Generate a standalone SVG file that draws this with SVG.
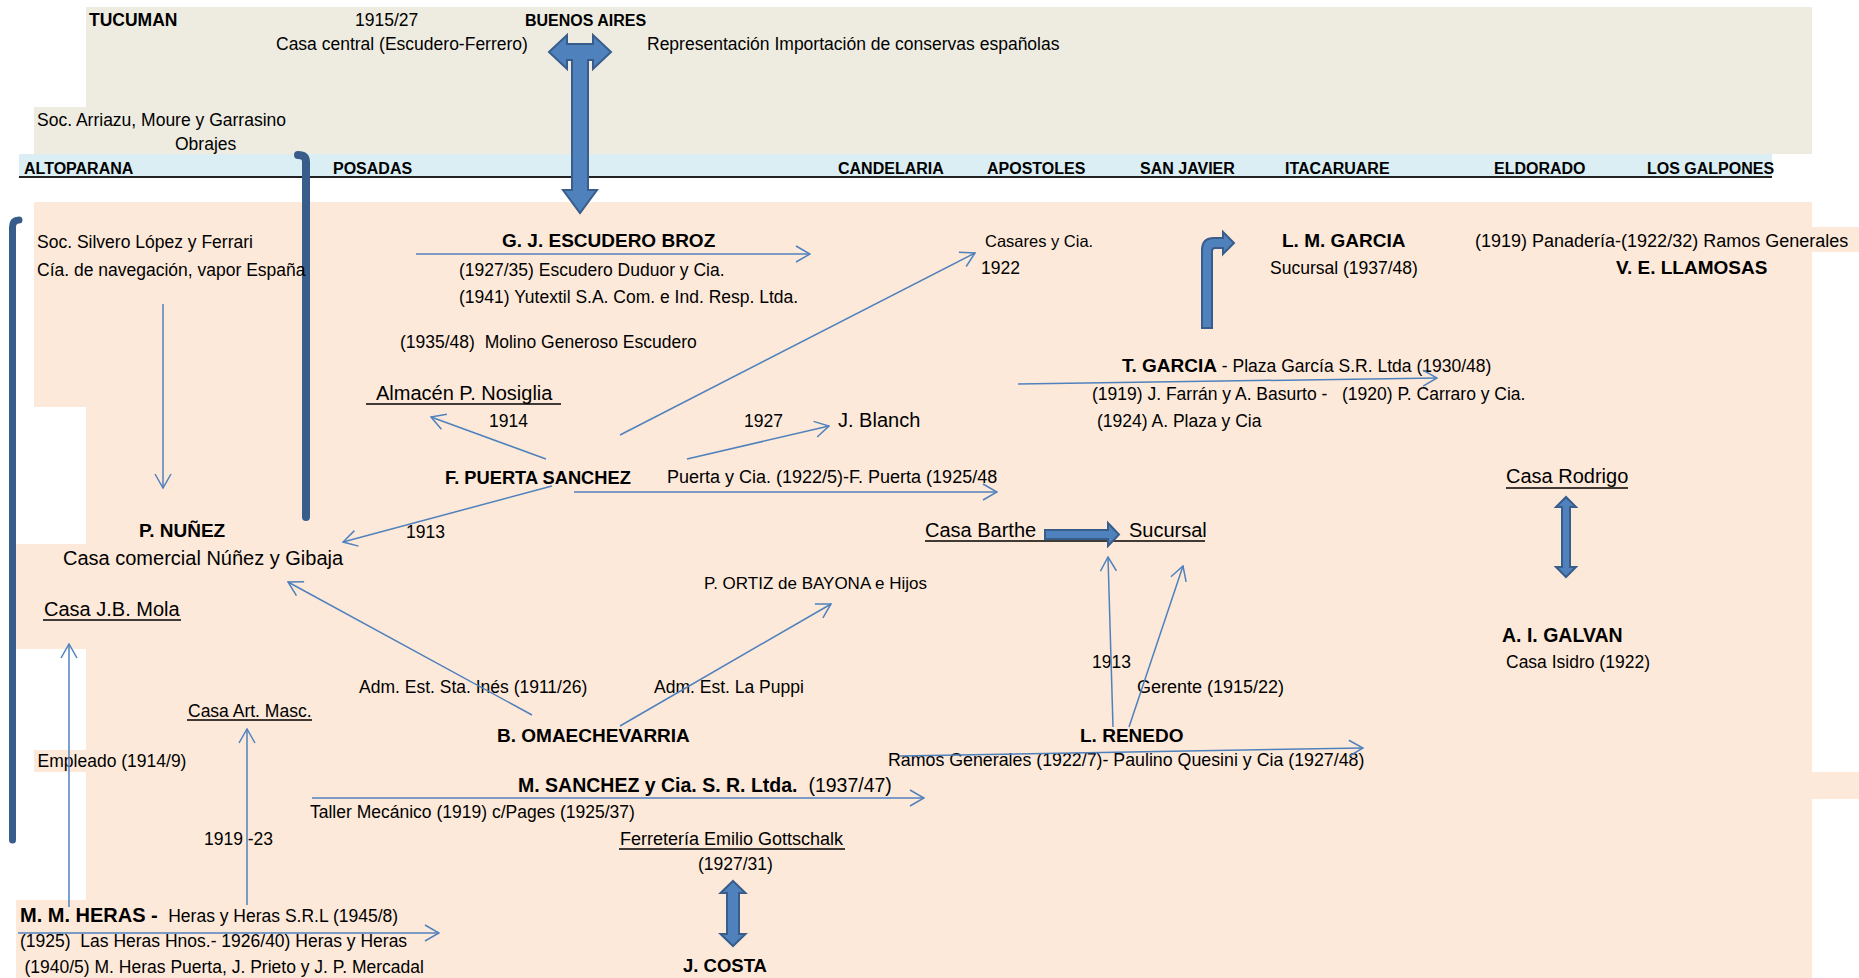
<svg xmlns="http://www.w3.org/2000/svg" width="1859" height="978" viewBox="0 0 1859 978">
<style>
text{font-family:"Liberation Sans",Arial,sans-serif;font-size:17.5px;fill:#000;white-space:pre}
.b{font-weight:bold;font-size:19px}
.band{font-weight:bold;font-size:16px}
.l{font-size:20px}
.peach{fill:#FDE9D9}
.beige{fill:#EEECE1}
.c{fill:none;stroke:#4F81BD;stroke-width:1.5}
.ul{stroke:#000;stroke-width:1.4}
.blk{fill:#4F81BD;stroke:#385D8A;stroke-width:2;stroke-linejoin:miter}
.bar{fill:none;stroke:#385D8A;stroke-linecap:round}
</style>
<defs>
<marker id="ah" viewBox="0 0 16 18" refX="15" refY="9" markerWidth="16" markerHeight="18" markerUnits="userSpaceOnUse" orient="auto">
<path d="M1,1 L15,9 L1,17" fill="none" stroke="#4F81BD" stroke-width="1.5"/>
</marker>
</defs>
<rect width="1859" height="978" fill="#fff"/>
<g id="background">
<rect class="beige" x="86" y="7" width="1726" height="147"/>
<rect class="beige" x="34" y="107" width="52" height="47"/>
<rect x="19" y="154" width="1753" height="23" fill="#DAEEF3"/>
<line x1="19" y1="177" x2="1772" y2="177" stroke="#222" stroke-width="2"/>
<rect class="peach" x="86" y="202" width="1726" height="776"/>
<rect class="peach" x="34" y="202" width="52" height="205"/>
<rect class="peach" x="16" y="544" width="70" height="105"/>
<rect class="peach" x="34" y="750" width="52" height="22"/>
<rect class="peach" x="16" y="900" width="70" height="78"/>
<rect class="peach" x="1812" y="227" width="47" height="25"/>
<rect class="peach" x="1812" y="772" width="47" height="27"/>
</g>
<g id="bars">
<path class="bar" stroke-width="7" d="M12.5,840 L12.5,227 Q12.5,220 19,220"/>
<path class="bar" stroke-width="8" d="M306,517 L306,162 Q306,155 298,155"/>
</g>
<g id="band-labels">
<text class="band" x="24" y="174">ALTOPARANA</text>
<text class="band" x="333" y="174">POSADAS</text>
<text class="band" x="838" y="174">CANDELARIA</text>
<text class="band" x="987" y="174">APOSTOLES</text>
<text class="band" x="1140" y="174">SAN JAVIER</text>
<text class="band" x="1285" y="174">ITACARUARE</text>
<text class="band" x="1494" y="174">ELDORADO</text>
<text class="band" x="1647" y="174">LOS GALPONES</text>
</g>
<g id="tucuman"><text class="b" style="font-size:17.5px" x="89" y="26">TUCUMAN</text></g>
<g id="casa-central">
<text x="355" y="26">1915/27</text>
<text x="276" y="50">Casa central (Escudero-Ferrero)</text>
</g>
<g id="buenos-aires">
<text class="b" style="font-size:16px" x="525" y="26">BUENOS AIRES</text>
<text x="647" y="50">Representación Importación de conservas españolas</text>
</g>
<g id="arriazu">
<text x="37" y="126">Soc. Arriazu, Moure y Garrasino</text>
<text x="175" y="150">Obrajes</text>
</g>
<g id="silvero">
<text x="37" y="248">Soc. Silvero López y Ferrari</text>
<text x="37" y="276">Cía. de navegación, vapor España</text>
</g>
<g id="escudero">
<text class="b" x="502" y="247">G. J. ESCUDERO BROZ</text>
<text x="459" y="276">(1927/35) Escudero Duduor y Cia.</text>
<text x="459" y="303">(1941) Yutextil S.A. Com. e Ind. Resp. Ltda.</text>
<text x="400" y="348">(1935/48)  Molino Generoso Escudero</text>
</g>
<g id="casares">
<text style="font-size:16.5px" x="985" y="247">Casares y Cia.</text>
<text x="981" y="274">1922</text>
</g>
<g id="lm-garcia">
<text class="b" x="1282" y="247">L. M. GARCIA</text>
<text x="1270" y="274">Sucursal (1937/48)</text>
</g>
<g id="llamosas">
<text style="font-size:18px" x="1475" y="247">(1919) Panadería-(1922/32) Ramos Generales</text>
<text class="b" x="1616" y="274">V. E. LLAMOSAS</text>
</g>
<g id="nosiglia">
<text class="l" x="376" y="400">Almacén P. Nosiglia</text>
<line class="ul" x1="366" y1="404" x2="561" y2="404"/>
</g>
<g id="blanch"><text class="l" x="838" y="427">J. Blanch</text></g>
<g id="t-garcia">
<text x="1122" y="372"><tspan class="b">T. GARCIA</tspan> - Plaza García S.R. Ltda (1930/48)</text>
<text x="1092" y="400">(1919) J. Farrán y A. Basurto -   (1920) P. Carraro y Cia.</text>
<text x="1097" y="427">(1924) A. Plaza y Cia</text>
</g>
<g id="puerta">
<text class="b" style="font-size:18.3px" x="445" y="484">F. PUERTA SANCHEZ</text>
<text style="font-size:18px" x="667" y="483">Puerta y Cia. (1922/5)-F. Puerta (1925/48</text>
</g>
<g id="nunez">
<text class="b" x="139" y="537">P. NUÑEZ</text>
<text class="l" x="63" y="565">Casa comercial Núñez y Gibaja</text>
</g>
<g id="mola">
<text class="l" x="44" y="616">Casa J.B. Mola</text>
<line class="ul" x1="43" y1="620" x2="181" y2="620"/>
</g>
<g id="barthe">
<text class="l" x="925" y="537">Casa Barthe</text>
<text class="l" x="1129" y="537">Sucursal</text>
<line class="ul" x1="925" y1="541" x2="1205" y2="541"/>
</g>
<g id="rodrigo">
<text class="l" x="1506" y="483">Casa Rodrigo</text>
<line class="ul" x1="1506" y1="488" x2="1628" y2="488"/>
</g>
<g id="ortiz"><text style="font-size:17px" x="704" y="589">P. ORTIZ de BAYONA e Hijos</text></g>
<g id="galvan">
<text class="b" style="font-size:19.5px" x="1502" y="642">A. I. GALVAN</text>
<text x="1506" y="668">Casa Isidro (1922)</text>
</g>
<g id="art-masc">
<text x="188" y="717">Casa Art. Masc.</text>
<line class="ul" x1="187" y1="720" x2="312" y2="720"/>
</g>
<g id="omaechevarria"><text class="b" x="497" y="742">B. OMAECHEVARRIA</text></g>
<g id="renedo">
<text class="b" x="1080" y="742">L. RENEDO</text>
<text style="font-size:17.8px" x="888" y="766">Ramos Generales (1922/7)- Paulino Quesini y Cia (1927/48)</text>
</g>
<g id="m-sanchez">
<text style="font-size:19.5px" x="518" y="792"><tspan font-weight="bold">M. SANCHEZ y Cia. S. R. Ltda.</tspan>  (1937/47)</text>
<text x="310" y="818">Taller Mecánico (1919) c/Pages (1925/37)</text>
</g>
<g id="gottschalk">
<text style="font-size:18px" x="620" y="845">Ferretería Emilio Gottschalk</text>
<line class="ul" x1="619" y1="849" x2="845" y2="849"/>
<text x="698" y="870">(1927/31)</text>
</g>
<g id="costa"><text class="b" style="font-size:18.5px" x="683" y="972">J. COSTA</text></g>
<g id="heras">
<text x="20" y="922"><tspan font-weight="bold" font-size="20px">M. M. HERAS - </tspan> Heras y Heras S.R.L (1945/8)</text>
<text x="20" y="947">(1925)  Las Heras Hnos.- 1926/40) Heras y Heras</text>
<text x="24.5" y="973">(1940/5) M. Heras Puerta, J. Prieto y J. P. Mercadal</text>
</g>
<g id="connector-labels">
<text x="489" y="427">1914</text>
<text x="744" y="427">1927</text>
<text x="406" y="538">1913</text>
<text x="1092" y="668">1913</text>
<text style="font-size:18px" x="1137" y="693">Gerente (1915/22)</text>
<text x="359" y="693">Adm. Est. Sta. Inés (1911/26)</text>
<text x="654" y="693">Adm. Est. La Puppi</text>
<text x="37.6" y="767">Empleado (1914/9)</text>
<text x="204" y="845">1919 -23</text>
</g>
<g id="connectors">
<path class="c" marker-end="url(#ah)" d="M416,254 L810,254"/>
<path class="c" marker-end="url(#ah)" d="M620,435 L975,253"/>
<path class="c" marker-end="url(#ah)" d="M546,459 L431,417"/>
<path class="c" marker-end="url(#ah)" d="M687,459 L829,426"/>
<path class="c" marker-end="url(#ah)" d="M574,492 L997,492"/>
<path class="c" marker-end="url(#ah)" d="M552,486 L343,542"/>
<path class="c" marker-end="url(#ah)" d="M163,304 L163,488"/>
<path class="c" marker-end="url(#ah)" d="M532,715 L288,582"/>
<path class="c" marker-end="url(#ah)" d="M620,726 L831,604"/>
<path class="c" marker-end="url(#ah)" d="M1018,384 L1437,378"/>
<path class="c" marker-end="url(#ah)" d="M1113,727 L1108,557"/>
<path class="c" marker-end="url(#ah)" d="M1129,727 L1183,566"/>
<path class="c" marker-end="url(#ah)" d="M900,756 L1363,748"/>
<path class="c" marker-end="url(#ah)" d="M312,798 L924,798"/>
<path class="c" marker-end="url(#ah)" d="M18,933 L439,933"/>
<path class="c" marker-end="url(#ah)" d="M69,907 L69,644"/>
<path class="c" marker-end="url(#ah)" d="M247,905 L247,729"/>
<path class="blk" d="M549,52 L567,35 L567,44 L593,44 L593,35 L611,52 L593,69 L593,60 L588,60 L588,190 L597,190 L580,213 L563,190 L572,190 L572,60 L567,60 L567,69 Z"/>
<path class="blk" d="M1202,328 L1202,250 Q1202,238 1214,238 L1223,238 L1223,232 L1234,243 L1223,254 L1223,248 L1215,248 Q1212,248 1212,251 L1212,328 Z"/>
<path class="blk" d="M1045,530 L1108,530 L1108,523 L1119,534.5 L1108,546 L1108,539 L1045,539 Z"/>
<path class="blk" d="M1566,497 L1576,507 L1570,507 L1570,567 L1576,567 L1566,577 L1556,567 L1562,567 L1562,507 L1556,507 Z"/>
<path class="blk" d="M733,881 L745.5,893 L739,893 L739,934 L745.5,934 L733,946 L720.5,934 L727,934 L727,893 L720.5,893 Z"/>
</g>
</svg>
